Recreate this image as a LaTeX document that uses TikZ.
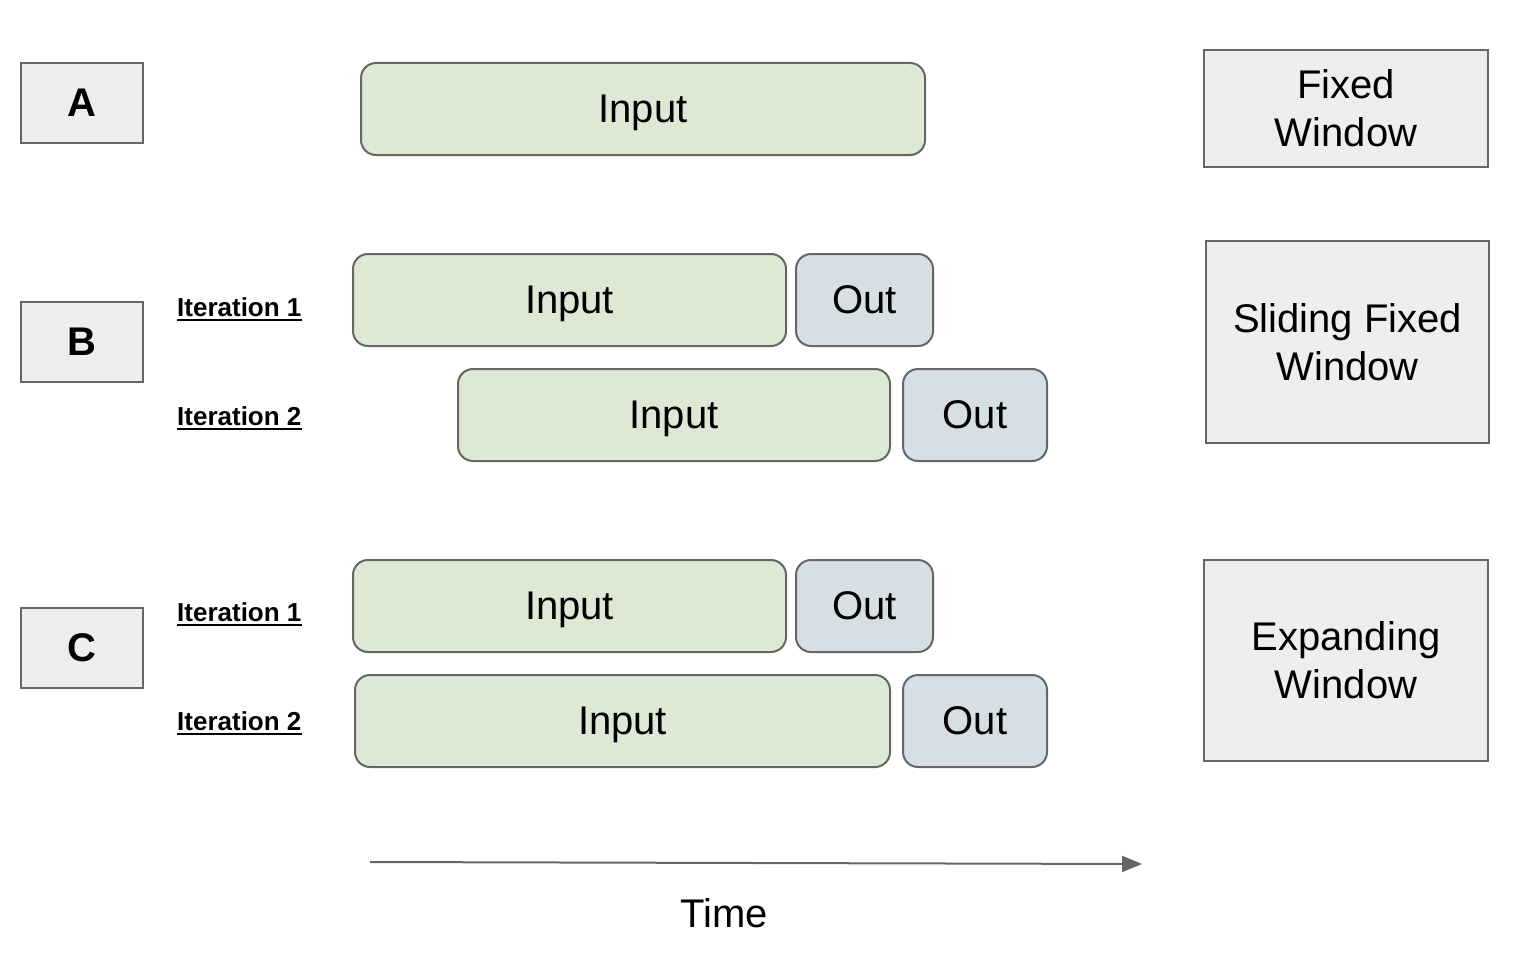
\documentclass[tikz,border=0pt]{standalone}
\usepackage{fontspec}
\setmainfont{Liberation Sans}
\usetikzlibrary{arrows.meta}
\definecolor{boxgray}{HTML}{EEEEEE}
\definecolor{edge}{HTML}{666666}
\definecolor{ingreen}{HTML}{DDE8D5}
\definecolor{outblue}{HTML}{D5DFE4}
\tikzset{
  base/.style={draw=edge, line width=2pt, inner sep=0pt, text depth=0pt,
    font=\fontsize{40}{48}\selectfont, align=center},
  letterbox/.style={base, fill=boxgray, font=\fontsize{40}{48}\selectfont\bfseries,
    minimum width=122pt, minimum height=80pt},
  namebox/.style={base, fill=boxgray, minimum width=284pt},
  inbox/.style={base, fill=ingreen, rounded corners=15pt, minimum height=92pt},
  outbox/.style={base, fill=outblue, rounded corners=15pt, minimum height=92pt},
  iterlabel/.style={anchor=base west, inner sep=0pt, font=\fontsize{26}{30}\selectfont\bfseries},
  uline/.style={line width=2pt, black},
  timearrow/.style={draw=edge, line width=2pt, -{Triangle[length=20pt,width=16pt]}}
}
\begin{document}
\begin{tikzpicture}[x=1pt,y=-1pt]
\useasboundingbox (0,0) rectangle (1534,958);
% letters
\node[letterbox] (A) at (82,103) {A};
\node[letterbox] (B) at (82,342) {B};
\node[letterbox] (C) at (82,647.5) {C};
% A row
\node[inbox, minimum width=564pt] (ainput) at (643,109) {Input};
% B rows
\node[inbox, minimum width=433pt] (b1in) at (569.5,300) {Input};
\node[outbox, minimum width=137pt] (b1out) at (864.5,300) {Out};
\node[inbox, minimum width=432pt] (b2in) at (674,415) {Input};
\node[outbox, minimum width=144pt] (b2out) at (975,415) {Out};
% C rows
\node[inbox, minimum width=433pt] (c1in) at (569.5,606) {Input};
\node[outbox, minimum width=137pt] (c1out) at (864.5,606) {Out};
\node[inbox, minimum width=535pt] (c2in) at (622.5,721) {Input};
\node[outbox, minimum width=144pt] (c2out) at (975,721) {Out};
% iteration labels
\node[iterlabel] (bl1) at (177,316) {Iteration 1};
\node[iterlabel] (bl2) at (177,425) {Iteration 2};
\node[iterlabel] (cl1) at (177,621) {Iteration 1};
\node[iterlabel] (cl2) at (177,730) {Iteration 2};
\foreach \n in {bl1,bl2,cl1,cl2}{
  \draw[uline] ([yshift=-4pt]\n.base west) -- ([yshift=-4pt]\n.base east);
}
% window names
\node[namebox, minimum height=117pt] (fixed) at (1346,108.5) {Fixed\\Window};
\node[namebox, minimum width=283pt, minimum height=202pt] (sliding) at (1347.5,342) {Sliding Fixed\\Window};
\node[namebox, minimum height=201pt] (expanding) at (1346,660.5) {Expanding\\Window};
% time arrow
\coordinate (t0) at (370,862);
\coordinate (t1) at (1142,864);
\draw[timearrow] (t0) -- (t1);
\node[font=\fontsize{40}{48}\selectfont, inner sep=0pt] (time) at (724,913) {Time};
\end{tikzpicture}
\end{document}
